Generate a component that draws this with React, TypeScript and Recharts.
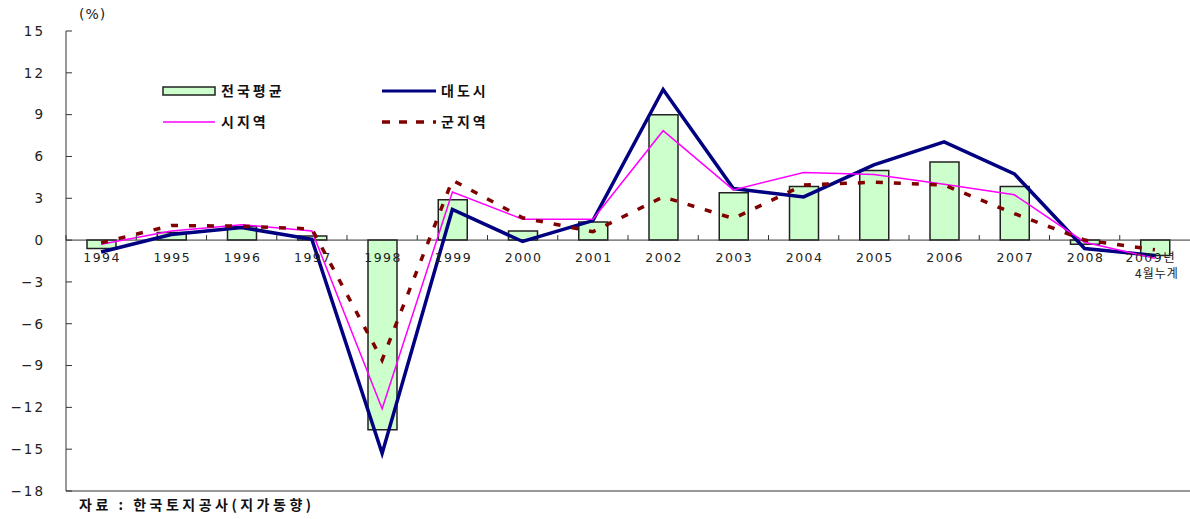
import { ComposedChart, Bar, Line, XAxis, YAxis, ReferenceLine } from 'recharts'

const years = ['1994', '1995', '1996', '1997', '1998', '1999', '2000', '2001', '2002', '2003', '2004', '2005', '2006', '2007', '2008', '2009']
const nationalAvg = [-0.6, 0.55, 0.95, 0.3, -13.6, 2.9, 0.65, 1.3, 9.0, 3.4, 3.85, 5.0, 5.6, 3.85, -0.3, -1.1]
const metroCities = [-0.85, 0.4, 0.9, 0.05, -15.3, 2.2, -0.1, 1.4, 10.8, 3.7, 3.1, 5.4, 7.05, 4.75, -0.6, -1.1]
const cityAreas = [-0.3, 0.65, 1.1, 0.65, -12.1, 3.45, 1.5, 1.5, 7.85, 3.6, 4.85, 4.7, 4.0, 3.25, -0.15, -1.3]
const countyAreas = [-0.2, 1.05, 1.0, 0.8, -8.6, 4.3, 1.6, 0.6, 3.1, 1.55, 3.95, 4.15, 3.95, 1.9, 0.0, -0.7]
const yTicks = [-18, -15, -12, -9, -6, -3, 0, 3, 6, 9, 12, 15]

const data = years.map((year, i) => ({
  year,
  national: nationalAvg[i],
  metro: metroCities[i],
  city: cityAreas[i],
  county: countyAreas[i],
}))

const W = 1190
const H = 519
const TOP = 31
const Y_AXIS_W = 66
const X_AXIS_H = 28
const Y_MIN = -18
const Y_MAX = 15
const plotH = H - TOP - X_AXIS_H
const zeroY = TOP + (plotH * Y_MAX) / (Y_MAX - Y_MIN)
const bandW = (W - Y_AXIS_W) / years.length

const numFont = '"DejaVu Sans", sans-serif'
const korFont = '"Noto Sans CJK KR", sans-serif'

function YTick({ y, payload }: any) {
  const v = payload.value as number
  const label = v < 0 ? `\u2212${Math.abs(v)}` : `${v}`
  return (
    <g>
      <line x1={Y_AXIS_W} x2={Y_AXIS_W + 6} y1={y} y2={y} stroke="#333" />
      <text x={45} y={y} dy="0.36em" textAnchor="end" fontFamily={numFont} fontSize={13.5} letterSpacing={2} fill="#222">
        {label}
      </text>
    </g>
  )
}

function XTick({ x, payload }: any) {
  const last = payload.value === '2009'
  return (
    <g>
      <line x1={x - bandW / 2} x2={x - bandW / 2} y1={zeroY - 5} y2={zeroY} stroke="#333" />
      {last ? (
        <g>
          <text x={x - 4} y={zeroY + 22} textAnchor="middle" fontSize={12.5} fill="#222" fontFamily={numFont} letterSpacing={1.5}>
            2009<tspan fontFamily={korFont}>년</tspan>
          </text>
          <text x={x + 2} y={zeroY + 38} textAnchor="middle" fontSize={12} fill="#222" fontFamily={korFont} letterSpacing={1}>
            4월누계
          </text>
        </g>
      ) : (
        <text x={x + 1} y={zeroY + 22} textAnchor="middle" fontFamily={numFont} fontSize={12.5} letterSpacing={1.5} fill="#222">
          {payload.value}
        </text>
      )}
    </g>
  )
}

function LegendBox() {
  const txt = { fontFamily: korFont, fontSize: 14, fontWeight: 700, letterSpacing: 3, fill: '#111' }
  return (
    <svg width={W} height={140} style={{ position: 'absolute', left: 0, top: 0, pointerEvents: 'none' }}>
      <rect x={163} y={87} width={52} height={8} fill="#ccffcc" stroke="#222" strokeWidth={1.5} />
      <text x={221} y={91} dy="0.36em" {...txt}>전국평균</text>
      <line x1={382} x2={436} y1={91} y2={91} stroke="#000080" strokeWidth={3} />
      <text x={441} y={91} dy="0.36em" {...txt}>대도시</text>
      <line x1={163} x2={215} y1={122} y2={122} stroke="#ff00ff" strokeWidth={1.5} />
      <text x={221} y={122} dy="0.36em" {...txt}>시지역</text>
      <line x1={382} x2={436} y1={122} y2={122} stroke="#800000" strokeWidth={3.5} strokeDasharray="8 9" />
      <text x={441} y={122} dy="0.36em" {...txt}>군지역</text>
    </svg>
  )
}

export default function App() {
  return (
    <div style={{ position: 'absolute', left: 0, top: 0, width: W, height: H, background: '#fff' }}>
      <ComposedChart width={W} height={H} data={data} margin={{ top: TOP, right: 0, left: 0, bottom: 0 }}>
        <XAxis
          dataKey="year"
          height={X_AXIS_H}
          axisLine={{ stroke: '#333' }}
          tickLine={false}
          tick={<XTick />}
          interval={0}
        />
        <YAxis
          width={Y_AXIS_W}
          domain={[Y_MIN, Y_MAX]}
          ticks={yTicks}
          interval={0}
          axisLine={{ stroke: '#333' }}
          tickLine={false}
          tick={<YTick />}
        />
        <ReferenceLine y={0} stroke="#333" />
        <Bar dataKey="national" barSize={29} fill="#ccffcc" stroke="#222" strokeWidth={1.5} isAnimationActive={false} />
        <Line dataKey="metro" stroke="#000080" strokeWidth={3.5} dot={false} isAnimationActive={false} />
        <Line dataKey="city" stroke="#ff00ff" strokeWidth={1.5} dot={false} isAnimationActive={false} />
        <Line dataKey="county" stroke="#800000" strokeWidth={3.5} strokeDasharray="7 11" dot={false} isAnimationActive={false} />
      </ComposedChart>
      <LegendBox />
      <div style={{ position: 'absolute', left: 79, top: 6, fontFamily: numFont, fontSize: 14, letterSpacing: 1, color: '#222' }}>
        (%)
      </div>
      <div style={{ position: 'absolute', left: 79, top: 494, fontFamily: korFont, fontSize: 14, fontWeight: 700, letterSpacing: 3.5, color: '#111', whiteSpace: 'nowrap' }}>
        자료 : 한국토지공사(지가동향)
      </div>
    </div>
  )
}
